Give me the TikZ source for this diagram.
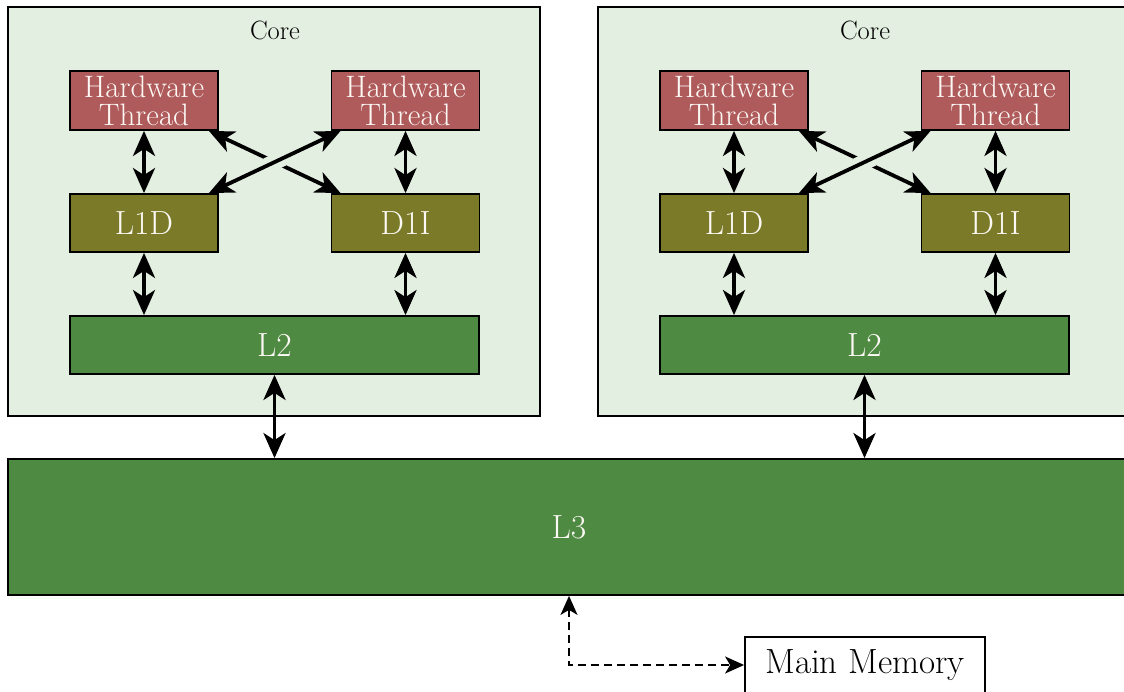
\documentclass[tikz,border=0pt]{standalone}
\usetikzlibrary{arrows.meta,calc}
\definecolor{corebg}{HTML}{E3EFE0}
\definecolor{htcol}{HTML}{AF5B5C}
\definecolor{l1col}{HTML}{7A7A28}
\definecolor{l2col}{HTML}{4F8A43}
\definecolor{txtcol}{HTML}{FCF8F4}
\tikzset{
  corebox/.style={draw=black, line width=1.8pt, fill=corebg, minimum width=532pt, minimum height=409pt, inner sep=0pt},
  unit/.style={draw=black, line width=1.8pt, text=txtcol, inner sep=0pt, align=center},
  htbox/.style={unit, fill=htcol, minimum width=148pt, minimum height=59pt, font=\fontsize{31}{28}\selectfont},
  l1box/.style={unit, fill=l1col, minimum width=148pt, minimum height=58pt, font=\fontsize{33.5}{33.5}\selectfont},
  l2box/.style={unit, fill=l2col, minimum width=409pt, minimum height=58pt, font=\fontsize{33.5}{33.5}\selectfont},
  l3box/.style={unit, fill=l2col, minimum width=1122pt, minimum height=136pt, font=\fontsize{33.5}{33.5}\selectfont},
  membox/.style={draw=black, line width=1.8pt, fill=white, minimum width=240pt, minimum height=56pt, inner sep=0pt, font=\fontsize{35}{35}\selectfont},
  link/.style={line width=3.8pt, {Stealth[length=25pt,width=22pt,inset=7pt]}-{Stealth[length=25pt,width=22pt,inset=7pt]}},
  memlink/.style={line width=1.8pt, dash pattern=on 8pt off 5pt, {Stealth[length=19pt,width=17pt,inset=5pt]}-{Stealth[length=19pt,width=17pt,inset=5pt]}},
  gap/.style={draw=corebg, line width=16pt},
  corelabel/.style={font=\fontsize{26.5}{26.5}\selectfont, inner sep=0pt}
}
\begin{document}
\begin{tikzpicture}[x=1pt,y=-1pt]
\useasboundingbox (0,0) rectangle (1124,692);
\begin{scope}
\clip (0,0) rectangle (1124,692);
\foreach \o/\s in {0/a,590/b}{
  \node[corebox] (core\s) at (274+\o,211.5) {};
  \node[corelabel] (lab\s) at (275+\o,30) {Core};
  \node[htbox] (htl\s) at (144+\o,100.5) {Hardware\\Thread};
  \node[htbox] (htr\s) at (405.5+\o,100.5) {Hardware\\Thread};
  \node[l1box] (l1d\s) at (144+\o,223) {L1D};
  \node[l1box] (d1i\s) at (405.5+\o,223) {D1I};
  \node[l2box] (l2\s) at (274.5+\o,345) {L2};
  \draw[link] (htl\s.south) -- (l1d\s.north);
  \draw[link] (htr\s.south) -- (d1i\s.north);
  \draw[link] (l1d\s.south) -- (l1d\s.south |- l2\s.north);
  \draw[link] (d1i\s.south) -- (d1i\s.south |- l2\s.north);
  \draw[link] ([xshift=-10pt]htl\s.south east) -- ([xshift=10pt]d1i\s.north west);
  \draw[gap] ($([xshift=-10pt]l1d\s.north east)!0.44!([xshift=10pt]htr\s.south west)$) -- ($([xshift=-10pt]l1d\s.north east)!0.56!([xshift=10pt]htr\s.south west)$);
  \draw[link] ([xshift=-10pt]l1d\s.north east) -- ([xshift=10pt]htr\s.south west);
}
\node[l3box] (l3) at (569,527) {L3};
\draw[link] (l2a.south) -- (l2a.south |- l3.north);
\draw[link] (l2b.south) -- (l2b.south |- l3.north);
\node[membox] (mm) at (865,665) {Main Memory};
\draw[memlink] (l3.south) |- (mm.west);
\end{scope}
\end{tikzpicture}
\end{document}
